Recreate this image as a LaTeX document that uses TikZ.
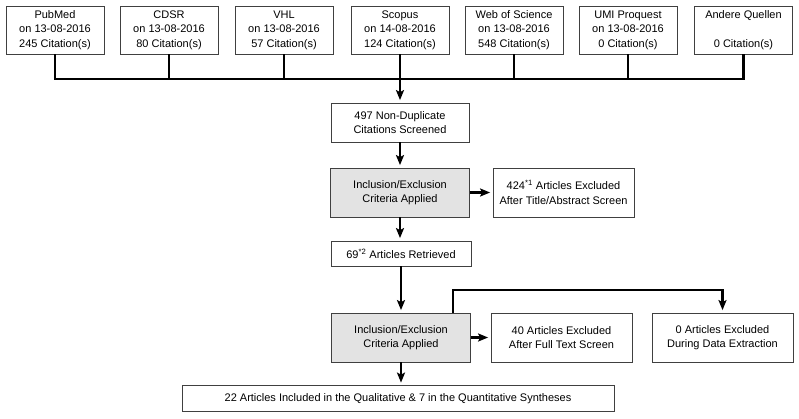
\documentclass[tikz,border=0pt]{standalone}
\usepackage{fontspec}
\setmainfont{Liberation Sans}
\usetikzlibrary{arrows.meta}
\begin{document}
\begin{tikzpicture}[x=1pt, y=-1pt, >={Stealth[length=10pt, width=8pt, inset=2pt]},
	every node/.style={font=\fontsize{11}{14.5}\selectfont, align=center, inner sep=0pt},
	box/.style={draw=black!75, line width=0.8pt, minimum width=#1},
	src/.style={box=98pt, minimum height=48pt},
	crit/.style={box=139pt, minimum height=49pt, fill=black!11},
	conn/.style={line width=2.4pt},
	arr/.style={conn, ->, shorten >=2.5pt}]
	\useasboundingbox (0,0) rectangle (799,418);
	
	% ---------- 1. sources ----------
	\node[src] (pubmed) at (55,30) {PubMed\\on 13-08-2016\\245 Citation(s)};
	\node[src] (cdsr) at (169,30) {CDSR\\on 13-08-2016\\80 Citation(s)};
	\node[src] (vhl) at (284,30) {VHL\\on 13-08-2016\\57 Citation(s)};
	\node[src] (scopus) at (400,30) {Scopus\\on 14-08-2016\\124 Citation(s)};
	\node[src] (wos) at (514,30) {Web of Science\\on 13-08-2016\\548 Citation(s)};
	\node[src] (umi) at (628,30) {UMI Proquest\\on 13-08-2016\\0 Citation(s)};
	\node[src] (andere) at (743.5,30) {Andere Quellen\\\strut\\0 Citation(s)};
	
	% ---------- 2. screening ----------
	\node[box=138pt, minimum height=39pt] (screened) at (400,122.5) {497 Non-Duplicate\\Citations Screened};
	\node[crit] (incl1) at (400,192.5) {Inclusion/Exclusion\\Criteria Applied};
	\node[box=141pt, minimum height=49pt] (excl1) at (563.5,192.5) {424\textsuperscript{*1} Articles Excluded\\After Title/Abstract Screen};
	\node[box=140pt, minimum height=25pt] (retrieved) at (401,253.5) {69\textsuperscript{*2} Articles Retrieved};
	
	% ---------- 3. full text ----------
	\node[crit] (incl2) at (401,337.5) {Inclusion/Exclusion\\Criteria Applied};
	\node[box=141pt, minimum height=49pt] (excl2) at (561.5,337.5) {40 Articles Excluded\\After Full Text Screen};
	\node[box=141pt, minimum height=49pt] (excl3) at (722.5,337.5) {0 Articles Excluded\\During Data Extraction};
	\node[box=432pt, minimum height=26pt] (included) at (398,398.5) {22 Articles Included in the Qualitative \& 7 in the Quantitative Syntheses};
	
	% ---------- 4. connectors ----------
	\coordinate (bus) at (55,79);
	\coordinate (turn) at (453,290);
	\draw[conn] (pubmed.south) -- (bus) -- (andere.south |- bus) -- (andere.south);
	\foreach \n in {cdsr, vhl, wos, umi}
		\draw[conn] (\n.south) -- (\n.south |- bus);
	\draw[arr] (scopus.south) -- (screened.north);
	\draw[arr] (screened.south) -- (incl1.north);
	\draw[arr] (incl1.east) -- (excl1.west);
	\draw[arr] (incl1.south) -- (incl1.south |- retrieved.north);
	\draw[arr] (retrieved.south) -- (retrieved.south |- incl2.north);
	\draw[arr] (incl2.east) -- (excl2.west);
	\draw[arr] (turn |- incl2.north) -- (turn) -| (excl3.north);
	\draw[arr] (incl2.south) -- (incl2.south |- included.north);
\end{tikzpicture}
\end{document}
